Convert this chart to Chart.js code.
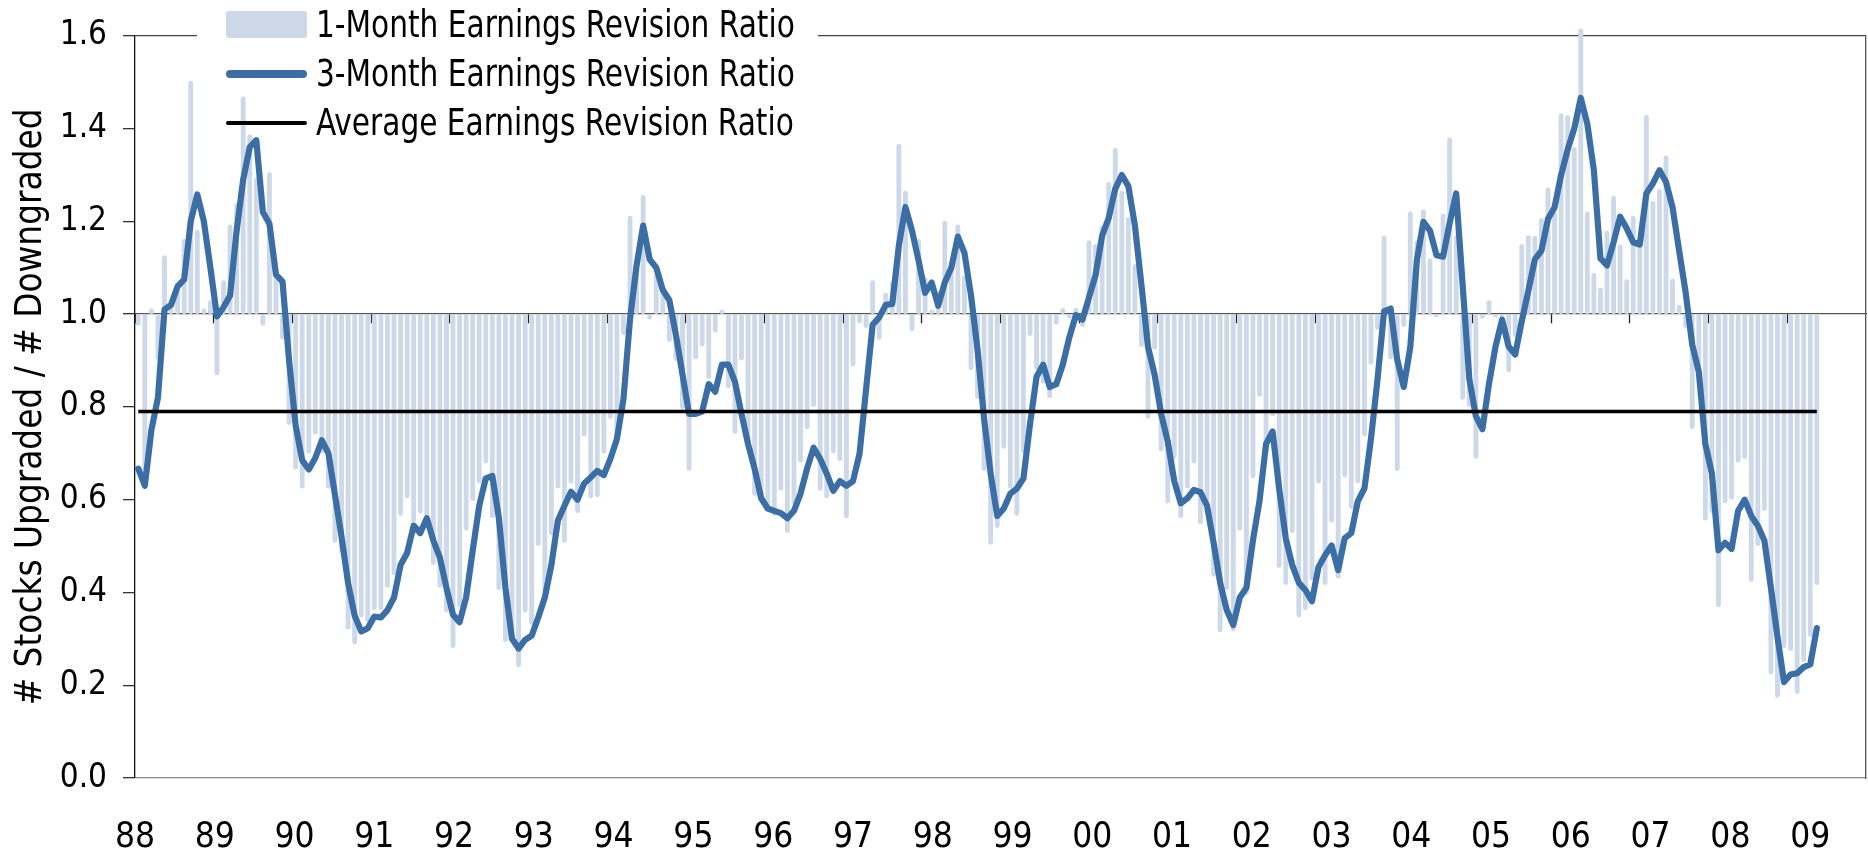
<!DOCTYPE html>
<html>
<head>
<meta charset="utf-8">
<title>Earnings Revision Ratio</title>
<script src="https://cdn.jsdelivr.net/npm/chart.js@4.4.1/dist/chart.umd.min.js"></script>
<style>
  html, body { margin: 0; padding: 0; background: #fff; }
  #wrap { position: relative; width: 1868px; height: 854px; overflow: hidden; }
  #chart { position: absolute; left: 0; top: 0; }
  #topMask { position: absolute; left: 197px; top: 29px; width: 621px; height: 8px; background: #fff; }
  #legend { position: absolute; left: 226px; top: 0; font-family: 'Liberation Sans Narrow', 'DejaVu Sans Condensed', sans-serif; font-size: 37px; color: #000; }
  #legend .item { display: flex; align-items: center; height: 49px; white-space: nowrap; }
  #legend .swatch { width: 81px; margin-right: 9px; display: flex; align-items: center; flex: none; }
  #legend .text { display: inline-block; transform: scaleX(0.89); transform-origin: left center; }
</style>
</head>
<body>
<div id="wrap">
  <canvas id="chart" width="1868" height="854"></canvas>
  <div id="topMask"></div>
  <div id="legend"></div>
</div>
<script>
// axis labels
const yearLabels = ['88','89','90','91','92','93','94','95','96','97','98','99','00','01','02','03','04','05','06','07','08','09'];
const yTickValues = [0, 0.2, 0.4, 0.6, 0.8, 1.0, 1.2, 1.4, 1.6];
const yTickLabels = ['0.0','0.2','0.4','0.6','0.8','1.0','1.2','1.4','1.6'];

// monthly categories, Jan 1988 .. Dec 2009
const months = [];
for (let y = 1988; y <= 2009; y++) {
  for (let m = 1; m <= 12; m++) months.push(y + '-' + String(m).padStart(2, '0'));
}

// 1-month ratio (bars hang from 1.0), one row per year
const oneMonthRatio = [
  0.975, 0.624, 1.012, 0.902, 1.127, 1.015, 1.06, 1.162, 1.503, 1.182, 1.012, 1.03,
  0.868, 1.073, 1.193, 1.239, 1.469, 1.388, 1.294, 0.975, 1.306, 1.08, 0.945, 0.761,
  0.665, 0.624, 0.699, 0.740, 0.70, 0.624, 0.507, 0.485, 0.32, 0.288, 0.346, 0.336,
  0.362, 0.362, 0.41, 0.437, 0.565, 0.603, 0.55, 0.57, 0.56, 0.459, 0.41, 0.357,
  0.28, 0.368, 0.533, 0.597, 0.635, 0.678, 0.56, 0.405, 0.293, 0.30, 0.239, 0.357,
  0.33, 0.50, 0.40, 0.523, 0.624, 0.507, 0.635, 0.571, 0.736, 0.603, 0.605, 0.699,
  0.774, 0.731, 0.955, 1.212, 1.12, 1.257, 0.988, 1.086, 1.057, 0.94, 0.899, 0.795,
  0.662, 0.902, 0.93, 0.86, 0.96, 1.01, 0.84, 0.742, 0.90, 0.715, 0.608, 0.597,
  0.576, 0.565, 0.619, 0.528, 0.59, 0.68, 0.752, 0.80, 0.619, 0.603, 0.70, 0.683,
  0.56, 0.887, 0.98, 0.97, 1.073, 0.945, 1.046, 1.07, 1.367, 1.266, 0.963, 1.162,
  1.08, 1.01, 1.05, 1.201, 1.10, 1.193, 1.084, 0.879, 0.817, 0.662, 0.503, 0.539,
  0.71, 0.624, 0.565, 0.70, 0.953, 0.88, 0.85, 0.819, 0.977, 1.013, 0.99, 1.014,
  0.972, 1.159, 1.151, 1.191, 1.285, 1.358, 1.266, 1.209, 1.108, 0.929, 0.774, 0.923,
  0.704, 0.592, 0.688, 0.56, 0.624, 0.678, 0.547, 0.59, 0.434, 0.314, 0.405, 0.316,
  0.533, 0.394, 0.646, 0.822, 0.70, 0.78, 0.453, 0.416, 0.528, 0.346, 0.362, 0.426,
  0.635, 0.416, 0.55, 0.43, 0.648, 0.58, 0.635, 0.736, 0.891, 0.966, 1.169, 0.902,
  0.662, 0.972, 1.221, 1.159, 1.226, 1.12, 0.993, 1.217, 1.381, 1.17, 0.815, 0.80,
  0.688, 0.99, 1.03, 0.993, 0.99, 0.875, 0.95, 1.151, 1.17, 1.169, 1.207, 1.273,
  1.22, 1.433, 1.429, 1.36, 1.616, 1.221, 1.089, 1.057, 1.18, 1.255, 1.15, 1.075,
  1.212, 1.15, 1.429, 1.244, 1.27, 1.342, 1.076, 1.02, 0.97, 0.752, 0.86, 0.555,
  0.571, 0.368, 0.592, 0.60, 0.68, 0.688, 0.423, 0.50, 0.576, 0.223, 0.173, 0.28,
  0.274, 0.181, 0.25, 0.304, 0.416
];

// 3-month ratio (line)
const threeMonthRatio = [
  0.667, 0.630, 0.75, 0.82, 1.01, 1.02, 1.06, 1.075, 1.2, 1.258, 1.2, 1.1,
  0.995, 1.015, 1.04, 1.18, 1.29, 1.36, 1.375, 1.22, 1.195, 1.085, 1.07, 0.9,
  0.76, 0.685, 0.665, 0.69, 0.728, 0.70, 0.61, 0.52, 0.42, 0.35, 0.316, 0.323,
  0.348, 0.346, 0.362, 0.389, 0.459, 0.485, 0.544, 0.528, 0.56, 0.512, 0.475, 0.41,
  0.352, 0.336, 0.389, 0.49, 0.587, 0.646, 0.651, 0.56, 0.41, 0.30, 0.279, 0.298,
  0.307, 0.346, 0.389, 0.459, 0.555, 0.587, 0.617, 0.60, 0.635, 0.648, 0.662, 0.653,
  0.688, 0.731, 0.817, 0.99, 1.105, 1.191, 1.118, 1.10, 1.052, 1.03, 0.955, 0.87,
  0.785, 0.785, 0.79, 0.849, 0.833, 0.891, 0.891, 0.854, 0.785, 0.72, 0.667, 0.603,
  0.581, 0.576, 0.571, 0.56, 0.576, 0.613, 0.667, 0.712, 0.688, 0.656, 0.619, 0.64,
  0.63, 0.64, 0.699, 0.838, 0.977, 0.993, 1.02, 1.022, 1.148, 1.231, 1.18, 1.116,
  1.046, 1.068, 1.018, 1.068, 1.1, 1.167, 1.132, 1.041, 0.923, 0.774, 0.656, 0.565,
  0.581, 0.613, 0.624, 0.646, 0.763, 0.865, 0.891, 0.843, 0.849, 0.891, 0.95, 0.998,
  0.988, 1.036, 1.084, 1.169, 1.207, 1.27, 1.3, 1.276, 1.191, 1.062, 0.929, 0.87,
  0.785, 0.726, 0.64, 0.592, 0.603, 0.621, 0.616, 0.587, 0.507, 0.421, 0.362, 0.33,
  0.389, 0.41, 0.512, 0.597, 0.72, 0.747, 0.624, 0.517, 0.459, 0.421, 0.405, 0.381,
  0.455, 0.48, 0.501, 0.448, 0.517, 0.528, 0.597, 0.624, 0.731, 0.859, 1.006, 1.012,
  0.902, 0.843, 0.929, 1.116, 1.199, 1.18, 1.127, 1.124, 1.196, 1.26, 1.06, 0.86,
  0.78, 0.752, 0.85, 0.93, 0.988, 0.93, 0.913, 0.985, 1.05, 1.118, 1.137, 1.205,
  1.23, 1.30, 1.355, 1.40, 1.466, 1.41, 1.31, 1.12, 1.105, 1.155, 1.21, 1.185,
  1.155, 1.15, 1.26, 1.282, 1.31, 1.285, 1.23, 1.137, 1.046, 0.934, 0.876, 0.72,
  0.656, 0.491, 0.507, 0.494, 0.576, 0.60, 0.565, 0.544, 0.512, 0.41, 0.304, 0.207,
  0.223, 0.226, 0.239, 0.245, 0.323
];

const averageRatio = 0.79;
const baseline = 1.0;
const lastMonth = months[oneMonthRatio.length - 1];

const FONT = "'Liberation Sans Narrow', 'DejaVu Sans Condensed', sans-serif";
Chart.defaults.font.family = FONT;
Chart.defaults.color = '#000';

// legend as html, built from the datasets
const htmlLegend = {
  id: 'htmlLegend',
  afterUpdate(chart) {
    const box = document.getElementById('legend');
    box.innerHTML = '';
    chart.data.datasets.forEach(ds => {
      const item = document.createElement('div');
      item.className = 'item';
      const sw = document.createElement('span');
      sw.className = 'swatch';
      const mark = document.createElement('span');
      mark.style.display = 'block';
      mark.style.width = '81px';
      if (ds.type === 'bar') {
        mark.style.height = '27px';
        mark.style.borderRadius = '3px';
        mark.style.background = ds.backgroundColor;
      } else {
        mark.style.height = ds.legendWidth + 'px';
        mark.style.borderRadius = (ds.legendWidth / 2) + 'px';
        mark.style.background = ds.borderColor;
      }
      sw.appendChild(mark);
      const txt = document.createElement('span');
      txt.className = 'text';
      txt.textContent = ds.label;
      item.appendChild(sw);
      item.appendChild(txt);
      box.appendChild(item);
    });
  }
};

new Chart(document.getElementById('chart'), {
  type: 'bar',
  data: {
    labels: months,
    datasets: [
      {
        type: 'bar',
        label: '1-Month Earnings Revision Ratio',
        data: oneMonthRatio.map(v => [baseline, v]),
        backgroundColor: '#cdd9e8',
        barPercentage: 0.74,
        categoryPercentage: 1,
        borderRadius: 2.4,
        borderSkipped: false,
        clip: false,
        order: 3,
        xAxisID: 'x',
        yAxisID: 'y'
      },
      {
        type: 'line',
        label: '3-Month Earnings Revision Ratio',
        data: threeMonthRatio,
        borderColor: '#3a6ea5',
        borderWidth: 6.2,
        legendWidth: 8,
        pointRadius: 0,
        tension: 0,
        borderJoinStyle: 'round',
        borderCapStyle: 'round',
        fill: false,
        order: 2,
        xAxisID: 'x',
        yAxisID: 'y'
      },
      {
        type: 'line',
        label: 'Average Earnings Revision Ratio',
        data: [{x: months[0], y: averageRatio}, {x: lastMonth, y: averageRatio}],
        borderColor: '#000',
        borderWidth: 3.5,
        legendWidth: 4,
        pointRadius: 0,
        fill: false,
        order: 1,
        xAxisID: 'x',
        yAxisID: 'y'
      }
    ]
  },
  options: {
    responsive: false,
    animation: false,
    layout: { padding: { top: 33, left: 0, right: 0, bottom: 0 } },
    plugins: {
      legend: { display: false },
      tooltip: { enabled: false }
    },
    scales: {
      x: {
        type: 'category',
        offset: true,
        position: { y: baseline },
        ticks: { display: false, autoSkip: false },
        grid: {
          offset: true,
          drawOnChartArea: false,
          tickLength: 9,
          tickWidth: 1.3,
          color: 'rgba(0,0,0,0)',
          tickColor: ctx => ctx.index % 12 === 0 ? '#222' : 'rgba(0,0,0,0)'
        },
        border: { display: true, color: '#555', width: 1.3 }
      },
      xYears: {
        type: 'linear',
        position: 'bottom',
        offset: false,
        min: 0,
        max: 21.7,
        afterBuildTicks: s => { s.ticks = yearLabels.map((_, i) => ({ value: i })); },
        ticks: {
          callback: (v, i) => yearLabels[i],
          font: { size: 35 },
          color: '#000',
          padding: 31,
          maxRotation: 0,
          autoSkip: false
        },
        grid: { display: false, offset: false },
        border: { display: false },
        afterFit: s => { s.height = 76; }
      },
      y: {
        type: 'linear',
        min: 0,
        max: 1.6,
        afterBuildTicks: s => { s.ticks = yTickValues.map(v => ({ value: v })); },
        ticks: {
          callback: (v, i) => yTickLabels[i],
          font: { size: 33 },
          color: '#000',
          padding: 16
        },
        grid: {
          drawOnChartArea: true,
          tickLength: 12,
          lineWidth: 1.3,
          tickColor: '#333',
          color: ctx => {
            const v = ctx.tick ? ctx.tick.value : -1;
            if (v === 0) return '#888';
            if (Math.abs(v - 1.6) < 1e-6) return '#444';
            return 'rgba(0,0,0,0)';
          }
        },
        border: { display: true, color: '#111', width: 1.3 },
        title: {
          display: true,
          text: '# Stocks Upgraded / # Downgraded',
          font: { size: 36.5 },
          color: '#000',
          padding: { top: 10, bottom: 0 }
        },
        afterFit: s => { s.width = 135; }
      },
      yRight: {
        type: 'linear',
        position: 'right',
        min: 0,
        max: 1.6,
        ticks: { display: false },
        grid: { display: false, drawTicks: false },
        border: { display: true, color: '#555', width: 1.3 },
        afterFit: s => { s.width = 2; }
      }
    }
  },
  plugins: [htmlLegend]
});
</script>
</body>
</html>
